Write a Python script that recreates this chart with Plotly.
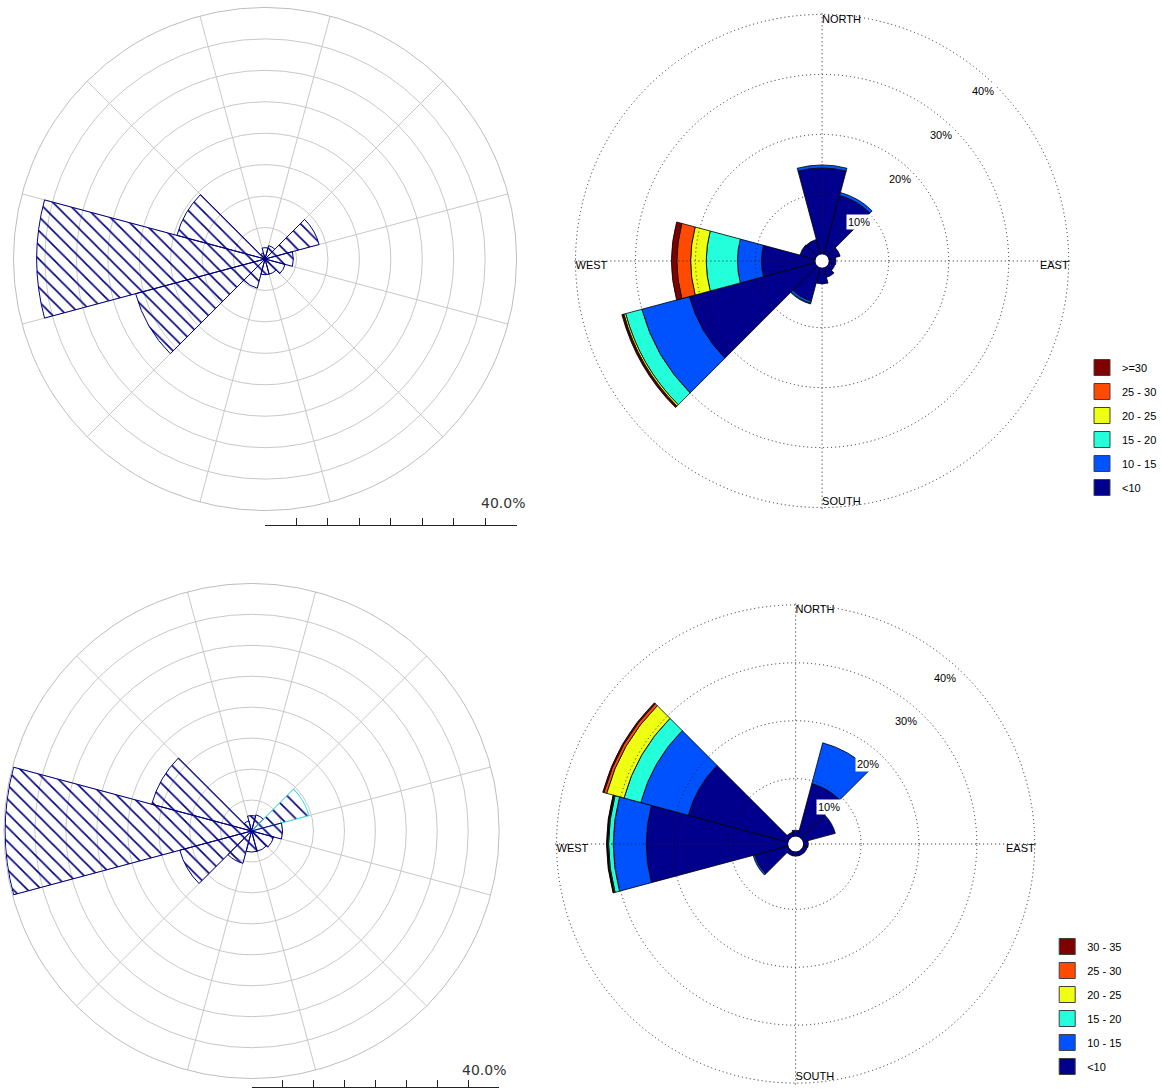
import math
import plotly.graph_objects as go

W, H = 1162, 1089

# ---------------- data ----------------
DIRS = [0, 30, 60, 90, 120, 150, 180, 210, 240, 270, 300, 330]

# top-left hatched rose (percent per sector)
TL_PCT = [1.8, 2.2, 8.9, 4.5, 3.3, 2.5, 2.5, 4.8, 21.3, 36.3, 14.5, 1.0]
# bottom-left hatched rose (percent per sector); flag marks the cyan-outlined sector
BL_PCT = [2.5, 2.7, 9.6, 5.0, 3.7, 3.4, 3.4, 5.4, 12.0, 39.8, 16.7, 1.7]
BL_FLAG = [0, 0, 1, 0, 0, 0, 0, 0, 0, 0, 0, 0]

# top-right stacked rose (percent per sector, per speed class)
TR_LABELS = ["<10", "10 - 15", "15 - 20", "20 - 25", "25 - 30", ">=30"]
TR_LT10 = [14.4, 10.2, 2.0, 1.2, 1.1, 1.7, 2.7, 5.8, 21.8, 9.0, 2.7, 2.6]
TR_10_15 = [0.5, 0.5, 0, 0, 0, 0, 0, 0.4, 8.2, 4.0, 0, 0]
TR_15_20 = [0, 0, 0, 0, 0, 0, 0, 0.1, 2.8, 5.2, 0, 0]
TR_20_25 = [0, 0, 0, 0, 0, 0, 0, 0, 0.3, 2.6, 0, 0]
TR_25_30 = [0, 0, 0, 0, 0, 0, 0, 0, 0.15, 2.3, 0, 0]
TR_GE30 = [0, 0, 0, 0, 0, 0, 0, 0, 0.2, 0.9, 0, 0]

# bottom-right stacked rose
BR_LABELS = ["<10", "10 - 15", "15 - 20", "20 - 25", "25 - 30", "30 - 35"]
BR_LT10 = [1.1, 9.5, 5.8, 0.9, 0.8, 0.8, 0.8, 0.8, 6.0, 24.5, 17.9, 0.8]
BR_10_15 = [0, 7.3, 0, 0, 0, 0, 0, 0, 0.3, 5.7, 8.5, 0]
BR_15_20 = [0, 0, 0, 0, 0, 0, 0, 0, 0, 0.8, 3.0, 0]
BR_20_25 = [0, 0, 0, 0, 0, 0, 0, 0, 0, 0.15, 3.1, 0]
BR_25_30 = [0, 0, 0, 0, 0, 0, 0, 0, 0, 0.1, 0.5, 0]
BR_30_35 = [0, 0, 0, 0, 0, 0, 0, 0, 0, 0.1, 0.2, 0]

CLASS_COLORS = ["#00008C", "#0052FF", "#22FFDA", "#EEFF12", "#FF4A00", "#800000"]

GRID_TL_ANGLES = [15, 45, 75, 105, 135, 165, 195, 225, 255, 285, 315, 345]
RING_TL = [5, 10, 15, 20, 25, 30, 35, 40]
RING_TR = [10, 20, 30, 40]
COMPASS = ["NORTH", "EAST", "SOUTH", "WEST"]
COMPASS_TH = [0, 90, 180, 270]
RMAX = 40

# ---------------- geometry (pixels) ----------------
TL = dict(cx=265.5, cy=259.0, R=252.0)
BL = dict(cx=252.0, cy=831.0, R=248.0)
TR = dict(cx=823.5, cy=261.0, R=247.0, hole=6.7)
BR = dict(cx=797.0, cy=844.0, R=239.5, hole=7.5)
PAD = 3.0  # extra pixels so the 40 % ring lies inside the radial range and gets a grid circle


def dom(g, pad=0.0):
    R = g["R"] + pad
    return dict(x=[(g["cx"] - R) / W, (g["cx"] + R) / W],
                y=[1 - (g["cy"] + R) / H, 1 - (g["cy"] - R) / H])


def rtop(g):
    return RMAX * (g["R"] + PAD - g["hole"]) / (g["R"] - g["hole"])


def nz(v):
    return [x if x else None for x in v]


fig = go.Figure()

NAVY = "#000080"

# ---- top-left hatched rose ----
fig.add_trace(go.Barpolar(
    r=TL_PCT, theta=DIRS, width=30, subplot="polar", showlegend=False,
    marker=dict(color="rgba(0,0,0,0)", line=dict(color=NAVY, width=1),
                pattern=dict(shape="\\", fgcolor=NAVY, bgcolor="rgba(0,0,0,0)",
                             fgopacity=1, size=10, solidity=0.16)),
    hoverinfo="skip"))

# ---- bottom-left hatched rose ----
fig.add_trace(go.Barpolar(
    r=BL_PCT, theta=DIRS, width=30, subplot="polar4", showlegend=False,
    marker=dict(color="rgba(0,0,0,0)",
                line=dict(color=["#30E0F0" if f else NAVY for f in BL_FLAG], width=1),
                pattern=dict(shape="\\", fgcolor=NAVY, bgcolor="rgba(0,0,0,0)",
                             fgopacity=1, size=10, solidity=0.16)),
    hoverinfo="skip"))

# ---- stacked roses (bars without legend entries) ----
n = len(TR_LABELS)
TR_SERIES = [TR_LT10, TR_10_15, TR_15_20, TR_20_25, TR_25_30, TR_GE30]
BR_SERIES = [BR_LT10, BR_10_15, BR_15_20, BR_20_25, BR_25_30, BR_30_35]
for sp, labels, series in [("polar2", TR_LABELS, TR_SERIES), ("polar5", BR_LABELS, BR_SERIES)]:
    for lab, vals, col in zip(labels, series, CLASS_COLORS):
        fig.add_trace(go.Barpolar(
            r=nz(vals), theta=DIRS, width=30, subplot=sp, name=lab, showlegend=False,
            marker=dict(color=col, line=dict(color="black", width=0.8)),
            hoverinfo="skip"))

# ---- compass labels on grid overlays + legend keys ----
for sp, labels, leg in [("polar3", TR_LABELS, "legend"), ("polar6", BR_LABELS, "legend2")]:
    fig.add_trace(go.Scatterpolar(
        r=[RMAX] * 4, theta=COMPASS_TH, text=COMPASS, mode="text", subplot=sp,
        textposition=["bottom right", "bottom left", "top right", "bottom right"],
        textfont=dict(family="Liberation Sans, Arial", size=11, color="black"),
        showlegend=False, hoverinfo="skip"))
    for i, (lab, col) in enumerate(zip(labels, CLASS_COLORS)):
        fig.add_trace(go.Scatterpolar(
            r=[None], theta=[None], mode="markers", subplot=sp, name=lab,
            legend=leg, legendgroup=leg + lab, legendrank=100 + n - i,
            marker=dict(symbol="square", size=16, color=col,
                        line=dict(color="#404040", width=1)),
            hoverinfo="skip"))

# ---- scale bar helper traces ----
fig.add_trace(go.Scatter(x=[0, RMAX], y=[0, 0], mode="markers", marker=dict(opacity=0),
                         xaxis="x", yaxis="y", showlegend=False, hoverinfo="skip"))
fig.add_trace(go.Scatter(x=[0, RMAX], y=[0, 0], mode="markers", marker=dict(opacity=0),
                         xaxis="x2", yaxis="y2", showlegend=False, hoverinfo="skip"))


def left_polar(g):
    return dict(
        domain=dom(g), bgcolor="white",
        angularaxis=dict(rotation=90, direction="clockwise", tickvals=GRID_TL_ANGLES,
                         showticklabels=False, ticks="", showgrid=True,
                         gridcolor="#C8C8C8", gridwidth=1, showline=True,
                         linecolor="#BDBDBD", linewidth=1),
        radialaxis=dict(range=[0, RMAX], tickvals=RING_TL, showticklabels=False,
                        ticks="", showline=False, showgrid=True,
                        gridcolor="#C8C8C8", gridwidth=1))


def bars_polar(g):
    return dict(
        domain=dom(g, PAD), bgcolor="white", hole=g["hole"] / (g["R"] + PAD), barmode="stack",
        angularaxis=dict(rotation=90, direction="clockwise", showticklabels=False,
                         ticks="", showgrid=False, showline=False),
        radialaxis=dict(range=[0, rtop(g)], showticklabels=False, ticks="",
                        showline=False, showgrid=False))


def grid_polar(g):
    return dict(
        domain=dom(g, PAD), bgcolor="rgba(0,0,0,0)", hole=g["hole"] / (g["R"] + PAD),
        angularaxis=dict(rotation=90, direction="clockwise", tickvals=COMPASS_TH,
                         showticklabels=False, ticks="", showgrid=True,
                         gridcolor="#202020", gridwidth=1, griddash="1px,3px",
                         showline=False),
        radialaxis=dict(range=[0, rtop(g)], tickvals=RING_TR, showticklabels=False,
                        ticks="", showline=False, showgrid=True,
                        gridcolor="#202020", gridwidth=1, griddash="1px,3px"))


def scale_x(g, anchor):
    return dict(domain=[g["cx"] / W, (g["cx"] + g["R"]) / W], range=[0, RMAX],
                anchor=anchor, tickvals=[0, 5, 10, 15, 20, 25, 30, 35, 40],
                showticklabels=False, ticks="inside", ticklen=7, tickwidth=1,
                tickcolor="#222", showline=True, linecolor="#222", linewidth=1,
                showgrid=False, zeroline=False, fixedrange=True)


def ring_labels(g, ang, back):
    out = []
    s = (g["R"] - g["hole"]) / RMAX
    for v in RING_TR:
        rp = g["hole"] + (v - back) * s
        x = g["cx"] + rp * math.sin(math.radians(ang))
        y = g["cy"] - rp * math.cos(math.radians(ang))
        out.append(dict(x=x / W, y=1 - y / H, xref="paper", yref="paper",
                        xanchor="center", yanchor="middle",
                        text=f"{v}%", showarrow=False, bgcolor="white",
                        borderpad=1,
                        font=dict(family="Liberation Sans, Arial", size=11, color="black")))
    return out


annotations = ring_labels(TR, 43.5, 2.2) + ring_labels(BR, 42.0, 2.7)
annotations += [
    dict(x=RMAX, y=1 - 503 / H, xref="x", yref="paper", text="40.0%", showarrow=False,
         xanchor="right", yanchor="middle", xshift=10,
         font=dict(family="DejaVu Sans", size=14, color="#333")),
    dict(x=RMAX, y=1 - 1070 / H, xref="x2", yref="paper", text="40.0%", showarrow=False,
         xanchor="right", yanchor="middle", xshift=9,
         font=dict(family="DejaVu Sans", size=14, color="#333")),
]

leg_common = dict(traceorder="grouped", tracegroupgap=5, bgcolor="rgba(0,0,0,0)",
                  itemsizing="trace",
                  font=dict(family="Liberation Sans, Arial", size=11, color="black"),
                  xanchor="left", yanchor="top")

fig.update_layout(
    width=W, height=H, margin=dict(l=0, r=0, t=0, b=0),
    paper_bgcolor="white", plot_bgcolor="white",
    polar=left_polar(TL),
    polar2=bars_polar(TR),
    polar3=grid_polar(TR),
    polar4=left_polar(BL),
    polar5=bars_polar(BR),
    polar6=grid_polar(BR),
    xaxis=scale_x(TL, "y"),
    yaxis=dict(domain=[1 - 525 / H, 1 - 515 / H], range=[0, 1], visible=False, fixedrange=True),
    xaxis2=scale_x(BL, "y2"),
    yaxis2=dict(domain=[1 - 1087 / H, 1 - 1077 / H], range=[0, 1], visible=False, fixedrange=True),
    legend=dict(x=1084 / W, y=1 - 353 / H, **leg_common),
    legend2=dict(x=1049 / W, y=1 - 932 / H, **leg_common),
    annotations=annotations,
    showlegend=True,
)

fig.write_html("out.html", config={"displayModeBar": False},
               post_script="document.body.style.margin='0px';document.body.style.overflow='hidden';")
